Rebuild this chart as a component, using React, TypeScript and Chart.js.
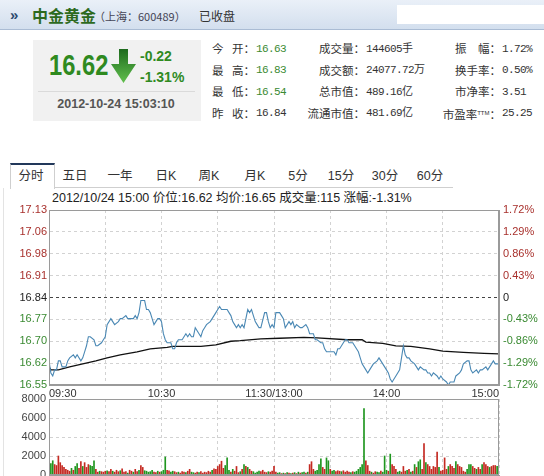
import React, { useEffect, useRef } from "react";
import { Chart, registerables } from "chart.js";

Chart.register(...registerables);

// ---------------- data ----------------
const prevClose = 16.84;
const priceAxisMin = 16.55;
const priceAxisMax = 17.13;
const priceTickLabels = ["17.13", "17.06", "16.98", "16.91", "16.84", "16.77", "16.70", "16.62", "16.55"];
const pctTickLabels = ["1.72%", "1.29%", "0.86%", "0.43%", "0", "-0.43%", "-0.86%", "-1.29%", "-1.72%"];
const timeGridMinutes = [0, 30, 60, 90, 120, 150, 180, 210, 240];
const timeLabels = ["09:30", "", "10:30", "", "11:30/13:00", "", "14:00", "", "15:00"];

// [minute from 09:30 (trading minutes), price]
const priceTrace: [number, number][] = [
  [0, 16.63], [1, 16.59], [2, 16.58], [3, 16.6], [4, 16.6], [5, 16.63], [6, 16.63], [7, 16.61], [9, 16.61],
  [10, 16.63], [11, 16.64], [13, 16.65], [14, 16.64], [15, 16.65], [17, 16.63], [18, 16.64], [19, 16.66],
  [20, 16.68], [21, 16.71], [22, 16.71], [24, 16.7], [25, 16.68], [26, 16.68], [28, 16.69], [29, 16.7],
  [30, 16.71], [31, 16.75], [33, 16.77], [34, 16.76], [35, 16.75], [37, 16.76], [38, 16.77], [39, 16.77],
  [41, 16.78], [42, 16.77], [43, 16.77], [45, 16.77], [46, 16.78], [47, 16.77], [48, 16.79], [49, 16.83],
  [51, 16.83], [52, 16.8], [53, 16.8], [54, 16.79], [55, 16.77], [56, 16.75], [58, 16.77], [59, 16.77],
  [60, 16.76], [61, 16.72], [62, 16.7], [63, 16.69], [65, 16.69], [66, 16.67], [67, 16.67], [68, 16.69],
  [69, 16.7], [71, 16.7], [72, 16.71], [73, 16.72], [74, 16.71], [75, 16.72], [76, 16.71], [77, 16.71],
  [78, 16.74], [80, 16.72], [81, 16.71], [82, 16.73], [83, 16.74], [84, 16.75], [86, 16.76], [87, 16.77],
  [89, 16.79], [90, 16.8], [91, 16.81], [92, 16.8], [93, 16.8], [95, 16.8], [96, 16.79], [97, 16.78],
  [98, 16.76], [99, 16.75], [100, 16.74], [101, 16.75], [102, 16.74], [103, 16.75], [104, 16.74], [105, 16.77],
  [106, 16.8], [107, 16.79], [108, 16.8], [109, 16.78], [110, 16.76], [111, 16.75], [112, 16.74], [113, 16.74],
  [115, 16.79], [116, 16.79], [117, 16.76], [118, 16.74], [119, 16.75], [120, 16.74], [121, 16.79], [123, 16.79],
  [124, 16.78], [125, 16.77], [126, 16.74], [128, 16.76], [129, 16.75], [130, 16.76], [131, 16.74], [132, 16.75],
  [134, 16.74], [135, 16.74], [137, 16.75], [138, 16.74], [139, 16.72], [141, 16.72], [142, 16.7], [143, 16.7],
  [145, 16.69], [146, 16.69], [147, 16.67], [148, 16.66], [150, 16.66], [151, 16.66], [152, 16.66], [153, 16.65],
  [154, 16.67], [155, 16.67], [157, 16.69], [158, 16.7], [159, 16.7], [160, 16.69], [161, 16.69], [162, 16.69],
  [164, 16.67], [165, 16.66], [166, 16.64], [167, 16.62], [169, 16.6], [170, 16.59], [171, 16.6], [172, 16.61],
  [173, 16.62], [175, 16.63], [176, 16.64], [177, 16.63], [178, 16.62], [180, 16.6], [181, 16.59], [182, 16.57],
  [183, 16.56], [184, 16.57], [185, 16.58], [187, 16.6], [188, 16.64], [189, 16.68], [190, 16.65], [191, 16.64],
  [192, 16.64], [193, 16.63], [195, 16.62], [196, 16.61], [197, 16.6], [198, 16.61], [200, 16.6], [201, 16.6],
  [202, 16.59], [203, 16.59], [204, 16.58], [205, 16.59], [207, 16.58], [208, 16.57], [209, 16.58], [210, 16.57],
  [212, 16.56], [213, 16.55], [214, 16.56], [215, 16.56], [216, 16.56], [217, 16.58], [219, 16.59], [220, 16.6],
  [221, 16.62], [223, 16.63], [224, 16.63], [225, 16.6], [226, 16.59], [228, 16.6], [229, 16.59], [230, 16.6],
  [231, 16.6], [233, 16.61], [234, 16.6], [235, 16.61], [236, 16.62], [237, 16.63], [238, 16.62], [240, 16.62],
];

// [minute, average price]
const avgTrace: [number, number][] = [
  [0, 16.61], [1, 16.6], [5, 16.6], [11, 16.61], [18, 16.62], [25, 16.63], [31, 16.64], [38, 16.65],
  [47, 16.66], [54, 16.67], [63, 16.675], [66, 16.678], [81, 16.678], [89, 16.683], [97, 16.695],
  [102, 16.697], [113, 16.703], [123, 16.705], [136, 16.708], [143, 16.706], [159, 16.7], [167, 16.7],
  [169, 16.692], [178, 16.688], [185, 16.68], [193, 16.678], [203, 16.67], [210, 16.662], [221, 16.658],
  [232, 16.655], [240, 16.653],
];

// volume per minute (手)
const volumeValues = [
  3800, 1200, 1500, 1100, 1000, 2000, 1300, 1000, 800, 600,
  500, 400, 700, 500, 900, 1200, 700, 1400, 900, 1300,
  800, 1100, 1000, 900, 1500, 600, 300, 400, 350, 300,
  400, 450, 350, 600, 400, 300, 500, 350, 450, 650,
  300, 350, 200, 500, 400, 300, 600, 350, 500, 1000,
  800, 450, 400, 300, 350, 500, 300, 250, 400, 300,
  350, 500, 1900, 500, 450, 300, 400, 350, 250, 300,
  200, 350, 300, 250, 400, 600, 300, 250, 200, 300,
  250, 350, 200, 300, 250, 400, 300, 500, 650, 600,
  900, 1100, 1450, 700, 1000, 1800, 500, 300, 600, 400,
  900, 250, 350, 600, 1100, 900, 800, 600, 400, 350,
  200, 300, 400, 350, 500, 300, 250, 350, 300, 400,
  900, 300, 200, 250, 150, 200, 150, 250, 200, 150,
  200, 250, 150, 300, 200, 250, 300, 200, 300, 1100,
  1400, 600, 400, 500, 1100, 1700, 800, 600, 1800, 1500,
  600, 400, 500, 350, 450, 400, 350, 450, 300, 400,
  300, 250, 350, 300, 400, 600, 800, 1100, 7000, 1500,
  1000, 400, 300, 200, 350, 300, 250, 400, 300, 2000,
  500, 400, 2200, 1100, 900, 600, 300, 400, 300, 900,
  400, 500, 600, 300, 400, 1100, 800, 1400, 1600, 600,
  3300, 1300, 1100, 900, 600, 900, 800, 2400, 800, 400,
  500, 1800, 600, 900, 1100, 900, 700, 1400, 1100, 900,
  800, 400, 300, 600, 1100, 1100, 900, 700, 600, 800,
  600, 1100, 1300, 1100, 900, 800, 900, 1000, 1000, 900,
  800,
];
// u = up tick (red), d = down tick (green)
const volumeSides =
  "ddduuuuuuu" + "uududduudu" + "uuddduuduu" + "uduuduuudu" + "uuduuduudu" +
  "uddddduudu" + "ddduudduud" + "uuuduudduu" + "duuuuuuduu" + "uuuudddudu" +
  "uudududuud" + "ddduuuuduu" + "uuddududud" + "udududdudu" + "uudddduudd" +
  "udduuuduuu" + "ududdddddu" + "uuduuddudd" + "duduuudduu" + "ududududdu" +
  "uduuuuuudu" + "uuuduuuduu" + "uuuddduudu" + "uduuuduuud" + "u";
const volumeTicks = [0, 2000, 4000, 6000, 8000];

// quote panel
const quoteRows = [
  { a: ["今", "开"], av: "16.63", avUp: -1, b: "成交量：", bv: "144605手", c: "振　幅：", cv: "1.72%" },
  { a: ["最", "高"], av: "16.83", avUp: -1, b: "成交额：", bv: "24077.72万", c: "换手率：", cv: "0.50%" },
  { a: ["最", "低"], av: "16.54", avUp: -1, b: "总市值：", bv: "489.16亿", c: "市净率：", cv: "3.51" },
  { a: ["昨", "收"], av: "16.84", avUp: 0, b: "流通市值：", bv: "481.69亿", c: "市盈率", cv: "25.25" },
];
const tabNames = ["分时", "五日", "一年", "日K", "周K", "月K", "5分", "15分", "30分", "60分"];

// ---------------- styles ----------------
const FONT = '"Liberation Sans", Arial, sans-serif';
const CJK = '"Liberation Sans", "Noto Sans CJK SC", sans-serif';
const CJKONLY = '"Noto Sans CJK SC", sans-serif';
const MONO = '"Liberation Mono", "Noto Sans CJK SC", monospace';
const UP = "#a8302c";
const DOWN = "#3a8a32";
const FLAT = "#222";
const GRID = "#d2d2d2";
const FRAME = "#9a9a9a";
const GREEN = "#2f8a1f";

const framePlugin = {
  id: "frame",
  afterDraw(chart: any) {
    const { ctx, chartArea } = chart;
    const l = Math.round(chartArea.left) + 0.5;
    const t = Math.round(chartArea.top) + 0.5;
    const r = Math.round(chartArea.right) - 0.5;
    const b = Math.round(chartArea.bottom) - 0.5;
    ctx.save();
    ctx.setLineDash([]);
    ctx.strokeStyle = FRAME;
    ctx.lineWidth = 1;
    ctx.strokeRect(l, t, r - l, b - t);
    ctx.restore();
  },
};

function Txt(props: any) {
  const { x, y, size, color = "#333", bold = false, family = CJK, align = "left", children, style } = props;
  const lh = Math.round(size * 1.3);
  const s: any = {
    position: "absolute",
    top: y - lh / 2,
    fontSize: size,
    lineHeight: lh + "px",
    color,
    fontWeight: bold ? 700 : 400,
    fontFamily: family,
    whiteSpace: "nowrap",
  };
  if (align === "left") s.left = x;
  else if (align === "right") s.right = 544 - x;
  else {
    s.left = x;
    s.transform = "translateX(-50%)";
  }
  return <div style={{ ...s, ...(style || {}) }}>{children}</div>;
}

export default function App() {
  const priceRef = useRef<HTMLCanvasElement>(null);
  const volRef = useRef<HTMLCanvasElement>(null);

  useEffect(() => {
    const charts: Chart[] = [];
    const step = (priceAxisMax - priceAxisMin) / (priceTickLabels.length - 1);
    const tickVals = priceTickLabels.map((_, k) => priceAxisMin + k * step);
    const sideColor = (c: any) => {
      if (!c || !c.tick) return FLAT;
      const v = c.tick.value;
      return v > prevClose + 1e-4 ? UP : v < prevClose - 1e-4 ? DOWN : FLAT;
    };
    const labelFont = { family: FONT, size: 11 };

    if (priceRef.current) {
      charts.push(
        new Chart(priceRef.current, {
          type: "line",
          data: {
            datasets: [
              {
                data: priceTrace.map(([m, p]) => ({ x: m, y: p })),
                borderColor: "#4a88b4",
                borderWidth: 1.1,
                pointRadius: 0,
                tension: 0,
                yAxisID: "y",
                order: 1,
              },
              {
                data: avgTrace.map(([m, p]) => ({ x: m, y: p })),
                borderColor: "#111",
                borderWidth: 1.3,
                pointRadius: 0,
                tension: 0,
                yAxisID: "y",
                order: 2,
              },
            ],
          },
          options: {
            animation: false,
            responsive: false,
            events: [],
            layout: { padding: { top: 10, left: 0, right: 0, bottom: 0 } },
            plugins: { legend: { display: false }, tooltip: { enabled: false } },
            scales: {
              x: {
                type: "linear",
                min: 0,
                max: 240,
                afterBuildTicks: (s: any) => {
                  s.ticks = timeGridMinutes.map((value) => ({ value }));
                },
                ticks: {
                  autoSkip: false,
                  maxRotation: 0,
                  align: "inner",
                  padding: 2,
                  color: "#333",
                  font: labelFont,
                  callback: (_v: any, i: number) => timeLabels[i],
                },
                grid: { color: GRID, drawTicks: false },
                border: { color: FRAME, dash: [3, 3] },
                afterFit: (s: any) => {
                  s.height = 15;
                  s.paddingLeft = 0;
                  s.paddingRight = 0;
                },
              },
              y: {
                type: "linear",
                position: "left",
                min: priceAxisMin,
                max: priceAxisMax,
                afterBuildTicks: (s: any) => {
                  s.ticks = tickVals.map((value) => ({ value }));
                },
                ticks: {
                  padding: 2,
                  font: labelFont,
                  color: sideColor,
                  callback: (_v: any, i: number) => priceTickLabels[priceTickLabels.length - 1 - i],
                },
                grid: {
                  drawTicks: false,
                  color: (c: any) =>
                    c.tick && Math.abs(c.tick.value - prevClose) < 1e-4 ? "#444" : GRID,
                },
                border: { color: FRAME, dash: [3, 3] },
                afterFit: (s: any) => {
                  s.width = 49;
                  s.paddingTop = 0;
                  s.paddingBottom = 0;
                },
              },
              y2: {
                type: "linear",
                position: "right",
                min: priceAxisMin,
                max: priceAxisMax,
                afterBuildTicks: (s: any) => {
                  s.ticks = tickVals.map((value) => ({ value }));
                },
                ticks: {
                  padding: 4,
                  font: labelFont,
                  color: sideColor,
                  callback: (_v: any, i: number) => pctTickLabels[pctTickLabels.length - 1 - i],
                },
                grid: { drawOnChartArea: false, drawTicks: false },
                border: { color: FRAME },
                afterFit: (s: any) => {
                  s.width = 45;
                  s.paddingTop = 0;
                  s.paddingBottom = 0;
                },
              },
            },
          },
          plugins: [framePlugin],
        } as any)
      );
    }

    if (volRef.current) {
      charts.push(
        new Chart(volRef.current, {
          type: "bar",
          data: {
            datasets: [
              {
                data: volumeValues.map((v, i) => ({ x: i, y: v })),
                backgroundColor: volumeValues.map((_, i) => (volumeSides[i] === "d" ? "#1f961f" : "#c42a22")),
                borderWidth: 0,
                barThickness: 1,
              },
            ],
          },
          options: {
            animation: false,
            responsive: false,
            events: [],
            layout: { padding: { top: 7, left: 0, right: 45, bottom: 0 } },
            plugins: { legend: { display: false }, tooltip: { enabled: false } },
            scales: {
              x: {
                type: "linear",
                min: 0,
                max: 240,
                offset: false,
                afterBuildTicks: (s: any) => {
                  s.ticks = timeGridMinutes.map((value) => ({ value }));
                },
                ticks: { display: false },
                grid: { color: GRID, drawTicks: false, offset: false },
                border: { color: FRAME, dash: [3, 3] },
                afterFit: (s: any) => {
                  s.height = 1;
                  s.paddingLeft = 0;
                  s.paddingRight = 0;
                },
              },
              y: {
                type: "linear",
                min: 0,
                max: volumeTicks[volumeTicks.length - 1],
                afterBuildTicks: (s: any) => {
                  s.ticks = volumeTicks.map((value) => ({ value }));
                },
                ticks: { padding: 3, font: labelFont, color: "#444", callback: (v: any) => String(v) },
                grid: { color: GRID, drawTicks: false },
                border: { color: FRAME, dash: [3, 3] },
                afterFit: (s: any) => {
                  s.width = 49;
                  s.paddingTop = 0;
                  s.paddingBottom = 0;
                },
              },
            },
          },
          plugins: [framePlugin],
        } as any)
      );
    }

    return () => charts.forEach((c) => c.destroy());
  }, []);

  const tabCenters = [31, 75, 120, 166, 209, 255, 298, 341, 385, 430];
  const rowY = [48.5, 70, 91.5, 113];

  return (
    <div
      style={{
        position: "absolute",
        left: 0,
        top: 0,
        width: 544,
        height: 476,
        overflow: "hidden",
        background: "#fff",
      }}
    >
      {/* title bar */}
      <div
        style={{
          position: "absolute",
          left: 0,
          top: 0,
          width: 544,
          height: 29,
          background: "linear-gradient(#eaf0f8, #d3dfee)",
          borderBottom: "1px solid #aabcd4",
        }}
      />
      <div style={{ position: "absolute", left: 397, top: 5, width: 147, height: 19, background: "#fff" }} />
      <Txt x={10} y={15} size={15} bold color="#2c4a6e">»</Txt>
      <Txt x={32} y={15} size={16} bold color="#2d6a1e" family={CJKONLY}>中金黄金</Txt>
      <Txt x={94} y={16} size={11} color="#445" family={CJKONLY}>（上海：600489）</Txt>
      <Txt x={199} y={16} size={12} color="#333" family={CJKONLY}>已收盘</Txt>

      {/* price box */}
      <div style={{ position: "absolute", left: 33, top: 40, width: 168, height: 81, background: "#f1f1f1" }} />
      <Txt
        x={49}
        y={64}
        size={30}
        bold
        color={GREEN}
        family={FONT}
        style={{ transform: "scaleX(0.79)", transformOrigin: "left center" }}
      >
        16.62
      </Txt>
      <svg style={{ position: "absolute", left: 111, top: 49 }} width={25} height={34}>
        <defs>
          <linearGradient id="arrowG" x1="0" y1="0" x2="0" y2="1">
            <stop offset="0" stopColor="#1d6a1d" />
            <stop offset="1" stopColor="#62c04e" />
          </linearGradient>
        </defs>
        <polygon points="8,0 17,0 17,15 25,15 12.5,34 0,15 8,15" fill="url(#arrowG)" />
      </svg>
      <Txt x={140} y={56} size={14} bold color={GREEN} family={FONT}>-0.22</Txt>
      <Txt x={140} y={77} size={14} bold color={GREEN} family={FONT}>-1.31%</Txt>
      <div style={{ position: "absolute", left: 38, top: 91, width: 157, height: 1, background: "#dadada" }} />
      <Txt x={116} y={103.5} size={12.5} bold color="#555" family={FONT} align="center">2012-10-24 15:03:10</Txt>

      {/* quote grid */}
      {quoteRows.map((r, k) => (
        <React.Fragment key={k}>
          <Txt x={212} y={rowY[k]} size={11.5} family={CJKONLY}>{r.a[0]}</Txt>
          <Txt x={232} y={rowY[k]} size={11.5} family={CJKONLY}>{r.a[1] + "："}</Txt>
          <Txt
            x={256}
            y={rowY[k]}
            size={11}
            family={MONO}
            color={r.avUp < 0 ? "#3a8a32" : "#333"}
            style={{ letterSpacing: "-0.6px" }}
          >
            {r.av}
          </Txt>
          <Txt x={365} y={rowY[k]} size={11.5} align="right" family={CJKONLY}>{r.b}</Txt>
          <Txt x={366} y={rowY[k]} size={11} family={MONO} color="#333" style={{ letterSpacing: "-0.6px" }}>{r.bv}</Txt>
          <Txt x={501} y={rowY[k]} size={11.5} align="right" family={CJKONLY}>
            {k === 3 ? (
              <>
                市盈率<span style={{ fontSize: 6, verticalAlign: "4px", fontFamily: FONT }}>TTM</span>：
              </>
            ) : (
              r.c
            )}
          </Txt>
          <Txt x={502} y={rowY[k]} size={11} family={MONO} color="#333" style={{ letterSpacing: "-0.6px" }}>{r.cv}</Txt>
        </React.Fragment>
      ))}

      {/* tabs */}
      <div
        style={{
          position: "absolute",
          left: 10,
          top: 163,
          width: 43,
          height: 24,
          borderTop: "2px solid #22385a",
          borderLeft: "1px solid #cfcfcf",
          borderRight: "1px solid #cfcfcf",
          background: "#fff",
        }}
      />
      <div style={{ position: "absolute", left: 55, top: 187, width: 398, height: 1, background: "#cfcfcf" }} />
      <div style={{ position: "absolute", left: 3, top: 188, width: 1, height: 288, background: "#e3e3e3" }} />
      {tabNames.map((t, k) => (
        <Txt key={t} x={tabCenters[k]} y={175.5} size={12.5} align="center" color="#333">{t}</Txt>
      ))}

      <Txt x={52} y={198} size={12.5} color="#222">
        2012/10/24 15:00 价位:16.62 均价:16.65 成交量:115 涨幅:-1.31%
      </Txt>

      {/* charts */}
      <canvas
        ref={priceRef}
        width={544}
        height={200}
        style={{ position: "absolute", left: 0, top: 200, width: 544, height: 200 }}
      />
      <canvas
        ref={volRef}
        width={544}
        height={84}
        style={{ position: "absolute", left: 0, top: 392, width: 544, height: 84 }}
      />
    </div>
  );
}
